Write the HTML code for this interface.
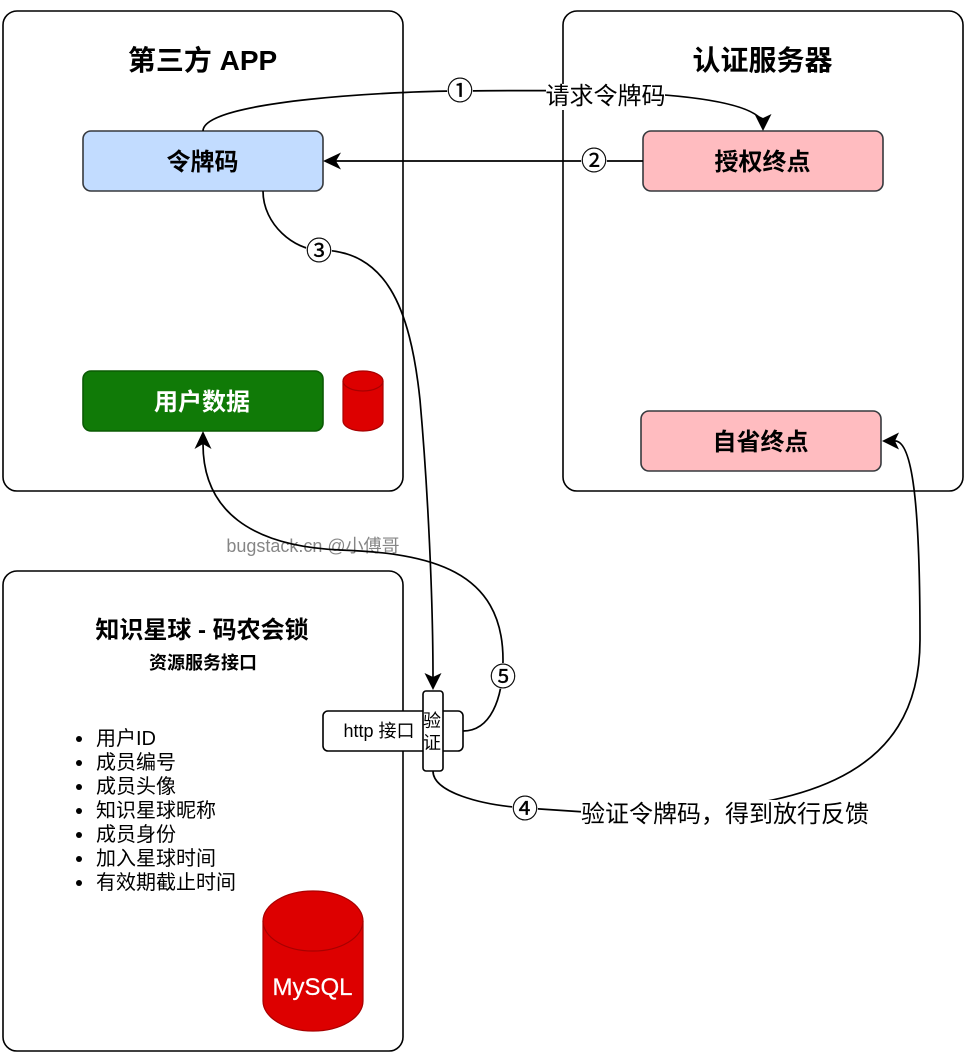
<!DOCTYPE html>
<html lang="zh">
<head>
<meta charset="utf-8">
<style>
html,body{margin:0;padding:0;background:#fff}
svg{display:block}
text{font-family:"Liberation Sans","Noto Sans CJK SC",sans-serif;text-anchor:middle;fill:#000}
.b{font-weight:bold}
.l{text-anchor:start;font-size:20px}
.c{font-size:24px}
.n{font-size:26px;stroke:#000;stroke-width:.3px}
</style>
</head>
<body>
<svg width="970" height="1058" viewBox="0 0 970 1058" xmlns="http://www.w3.org/2000/svg">
<g fill="#fff" stroke="#000" stroke-width="1.6">
<rect x="3" y="11" width="400" height="480" rx="14"/>
<rect x="563" y="11" width="400" height="480" rx="14"/>
<rect x="3" y="571" width="400" height="480" rx="14"/>
</g>
<text class="b" x="202.5" y="70" font-size="28">第三方 APP</text>
<text class="b" x="762.5" y="70" font-size="28">认证服务器</text>

<g stroke-width="1.6">
<rect x="83" y="131" width="240" height="60" rx="8" fill="#c2dcff" stroke="#36393d"/>
<rect x="643" y="131" width="240" height="60" rx="8" fill="#ffbcc0" stroke="#36393d"/>
<rect x="641" y="411" width="240" height="60" rx="8" fill="#ffbcc0" stroke="#36393d"/>
<rect x="83" y="371" width="240" height="60" rx="8" fill="#107a07" stroke="#0a5a04"/>
</g>
<text class="b" x="202.5" y="170" font-size="24">令牌码</text>
<text class="b" x="762.5" y="170" font-size="24">授权终点</text>
<text class="b" x="760.5" y="450" font-size="24">自省终点</text>
<text class="b" x="202" y="410" font-size="24" style="fill:#fff">用户数据</text>

<g fill="#dd0000" stroke="#a80000" stroke-width="1.2">
<path d="M343,381 A20,10 0 0 1 383,381 V421 A20,10 0 0 1 343,421 Z"/>
<path d="M343,381 A20,10 0 0 0 383,381" fill="none"/>
<path d="M263,921 A50,30 0 0 1 363,921 V1001 A50,30 0 0 1 263,1001 Z"/>
<path d="M263,921 A50,30 0 0 0 363,921" fill="none"/>
</g>
<text x="312.5" y="995" font-size="24" style="fill:#fff;stroke:#fff;stroke-width:.25px">MySQL</text>

<text class="b" x="202" y="638" font-size="24">知识星球 - 码农会锁</text>
<text class="b" x="203" y="669" font-size="18">资源服务接口</text>

<g fill="#000">
<circle cx="79" cy="739" r="3"/>
<circle cx="79" cy="763" r="3"/>
<circle cx="79" cy="787" r="3"/>
<circle cx="79" cy="811" r="3"/>
<circle cx="79" cy="835" r="3"/>
<circle cx="79" cy="859" r="3"/>
<circle cx="79" cy="883" r="3"/>
</g>
<text class="l" x="96" y="745">用户ID</text>
<text class="l" x="96" y="769">成员编号</text>
<text class="l" x="96" y="793">成员头像</text>
<text class="l" x="96" y="817">知识星球昵称</text>
<text class="l" x="96" y="841">成员身份</text>
<text class="l" x="96" y="865">加入星球时间</text>
<text class="l" x="96" y="889">有效期截止时间</text>

<g fill="none" stroke="#000" stroke-width="1.7">
<path d="M203,131 C203,100 400,91 460,91 C560,90 745,88 763,122"/>
<path d="M643,161 H336"/>
<path d="M263,191 C263,225 295,250 319,250 C385,250 410,305 420,400 C428,490 433,600 433,678"/>
<path d="M433,771 C433,792 480,805 525,808 L600,813 C800,815 920,780 920,640 C920,500 912,441 895,441"/>
<path d="M463,731 C490,731 503,700 503,660 C503,570 430,553 340,550 C250,546 203,510 203,444"/>
</g>
<g fill="#000">
<polygon points="763,131 754.5,114 763,118 771.5,114"/>
<polygon points="323,161 341,152.5 336,161 341,169.5"/>
<polygon points="433,690 424.5,673 433,677 441.5,673"/>
<polygon points="882,441 899,432.5 895,441 899,449.5"/>
<polygon points="203,431 194.5,449 203,444 211.5,449"/>
</g>

<rect x="323" y="711" width="140" height="40" rx="5" fill="#fff" stroke="#000" stroke-width="1.6"/>
<text x="379" y="737" font-size="18">http 接口</text>
<rect x="423" y="691" width="20" height="80" rx="3" fill="#fff" stroke="#000" stroke-width="1.6"/>
<text x="432" y="727" font-size="18">验</text>
<text x="432" y="749" font-size="18">证</text>

<rect x="546" y="84" width="119" height="26" fill="#fff"/>
<text class="c" x="605.5" y="104">请求令牌码</text>
<rect x="581" y="800" width="287" height="26" fill="#fff"/>
<text class="c" x="725" y="822">验证令牌码，得到放行反馈</text>

<circle cx="460" cy="90" r="13" fill="#fff"/>
<circle cx="594" cy="160" r="13" fill="#fff"/>
<circle cx="319" cy="250" r="13" fill="#fff"/>
<circle cx="525" cy="808" r="13" fill="#fff"/>
<circle cx="503" cy="676" r="13" fill="#fff"/>
<text class="n" x="460" y="100">①</text>
<text class="n" x="594" y="170">②</text>
<text class="n" x="319" y="260">③</text>
<text class="n" x="525" y="818">④</text>
<text class="n" x="503" y="686">⑤</text>

<text x="313" y="552" font-size="18" style="fill:#000;fill-opacity:.48">bugstack.cn @小傅哥</text>
</svg>
</body>
</html>
